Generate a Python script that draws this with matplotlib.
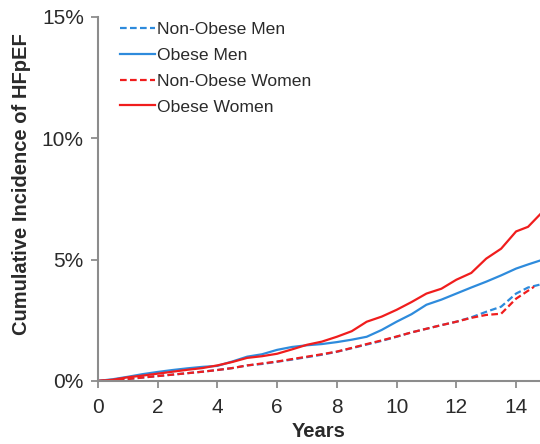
import numpy as np
import matplotlib
matplotlib.use("Agg")
import matplotlib.pyplot as plt
from matplotlib.ticker import FuncFormatter

plt.rcParams['font.family'] = ['Liberation Sans', 'DejaVu Sans']

# ── Data (cumulative incidence, %) ──────────────────────────────────────────
years = [0, 0.5, 1, 1.5, 2, 2.5, 3, 3.5, 4, 4.5, 5, 5.5, 6, 6.5, 7, 7.5, 8,
         8.5, 9, 9.5, 10, 10.5, 11, 11.5, 12, 12.5, 13, 13.5, 14, 14.4, 14.8]

obese_women = [0, 0.05, 0.15, 0.22, 0.30, 0.38, 0.46, 0.53, 0.64, 0.78, 0.95,
               1.02, 1.12, 1.30, 1.49, 1.62, 1.82, 2.05, 2.44, 2.65, 2.93,
               3.25, 3.60, 3.80, 4.17, 4.45, 5.04, 5.45, 6.16, 6.35, 6.86]
obese_men = [0, 0.07, 0.17, 0.28, 0.37, 0.45, 0.52, 0.58, 0.62, 0.80, 1.00,
             1.10, 1.28, 1.40, 1.47, 1.52, 1.60, 1.70, 1.82, 2.10, 2.44,
             2.75, 3.14, 3.35, 3.60, 3.85, 4.09, 4.35, 4.63, 4.80, 4.96]
nonobese_men = [0, 0.03, 0.08, 0.14, 0.20, 0.26, 0.32, 0.38, 0.45, 0.53, 0.64,
                0.70, 0.79, 0.88, 0.98, 1.08, 1.20, 1.35, 1.50, 1.65, 1.82,
                2.00, 2.15, 2.30, 2.44, 2.62, 2.85, 3.06, 3.60, 3.85, 3.97]
nonobese_women = [0, 0.03, 0.08, 0.14, 0.20, 0.26, 0.32, 0.38, 0.45, 0.53, 0.64,
                  0.72, 0.80, 0.90, 1.00, 1.10, 1.21, 1.36, 1.52, 1.67, 1.83,
                  2.00, 2.15, 2.30, 2.44, 2.60, 2.72, 2.77, 3.39, 3.88]
years_nw = years[:29] + [14.6]

BLUE = '#2e8bdc'
RED = '#f01d1d'
GRAY = '#8c8c8c'
TXT = '#2a2a2a'

fig = plt.figure(figsize=(5.4, 4.44), dpi=100)
ax = fig.add_axes([0.181, 0.142, 0.819, 0.82])

ax.plot(years, nonobese_men, color=BLUE, lw=1.6, ls=(0, (3, 1.5)), label='Non-Obese Men')
ax.plot(years, obese_men, color=BLUE, lw=1.6, label='Obese Men')
ax.plot(years_nw, nonobese_women, color=RED, lw=1.6, ls=(0, (3, 1.5)), label='Non-Obese Women')
ax.plot(years, obese_women, color=RED, lw=1.6, label='Obese Women')

ax.set_xlim(0, 14.8)
ax.set_ylim(0, 15)
ax.set_xticks(range(0, 15, 2))
ax.set_yticks([0, 5, 10, 15])
ax.yaxis.set_major_formatter(FuncFormatter(lambda v, p: '%d%%' % v))

for s in ['top', 'right']:
    ax.spines[s].set_visible(False)
for s in ['left', 'bottom']:
    ax.spines[s].set_color(GRAY)
    ax.spines[s].set_linewidth(1.5)
ax.tick_params(colors=GRAY, width=1.3, length=5, labelsize=15, labelcolor=TXT)
ax.tick_params(axis='x', pad=7)
ax.tick_params(axis='y', pad=5)

ax.set_xlabel('Years', fontsize=14.5, fontweight='bold', color=TXT, labelpad=4)
ax.set_ylabel('Cumulative Incidence of HFpEF', fontsize=14.5, fontweight='bold',
              color=TXT, labelpad=4)
ax.yaxis.set_label_coords(-0.15, 0.54)

leg = ax.legend(loc='upper left', bbox_to_anchor=(0.035, 1.005), frameon=False,
                fontsize=12.6, handlelength=2.0, handletextpad=0.1,
                labelspacing=0.6, borderaxespad=0)
for t in leg.get_texts():
    t.set_color(TXT)

fig.savefig('out.png', dpi=100)
plt.close(fig)
